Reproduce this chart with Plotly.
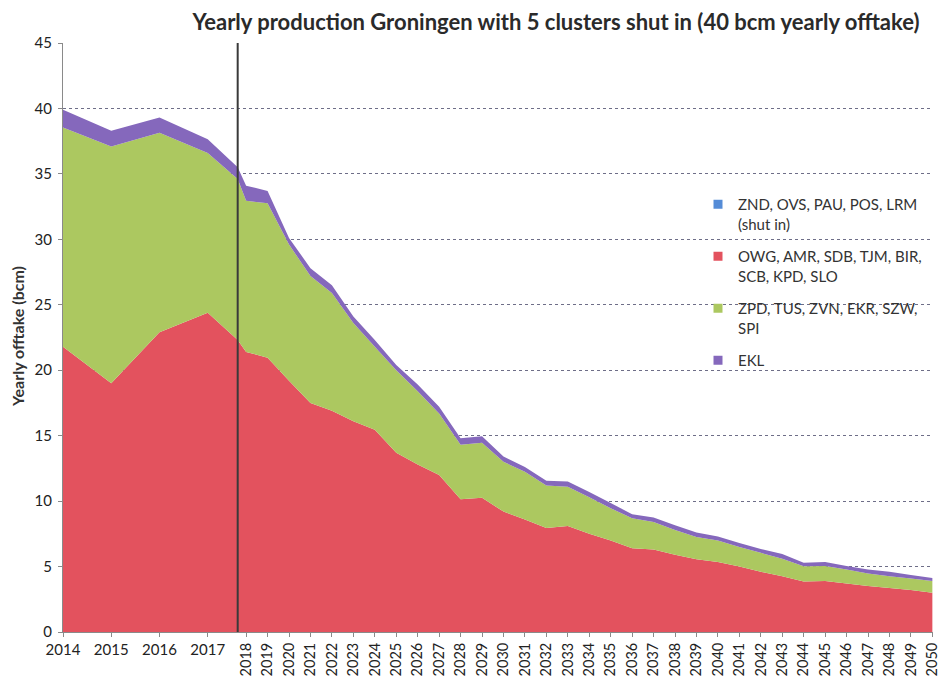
import numpy as np
import plotly.graph_objects as go

# ---- data ----
years = [2014, 2015, 2016, 2017, 2017.78] + list(range(2018, 2051))

shut_in = [0.0] * len(years)  # ZND, OVS, PAU, POS, LRM (shut in)
owg = [21.8, 19.0, 22.9, 24.4, 22.3, 21.4, 20.95, 19.2, 17.5, 16.9, 16.1, 15.45, 13.7,
       12.8, 12.0, 10.15, 10.25, 9.2, 8.6, 7.95, 8.1, 7.5, 7.0, 6.4, 6.3, 5.9, 5.55,
       5.35, 5.0, 4.6, 4.25, 3.85, 3.9, 3.7, 3.52, 3.37, 3.2, 3.0]
zpd = [16.75, 18.1, 15.25, 12.2, 12.3, 11.55, 11.8, 10.4, 9.7, 9.0, 7.5, 6.35, 6.3,
       5.6, 4.7, 4.15, 4.2, 3.8, 3.65, 3.25, 3.0, 2.8, 2.45, 2.3, 2.1, 1.9, 1.7,
       1.65, 1.5, 1.45, 1.35, 1.18, 1.15, 1.08, 0.95, 0.89, 0.88, 0.9]
ekl = [1.35, 1.2, 1.15, 1.05, 0.9, 1.15, 0.95, 0.5, 0.6, 0.6, 0.5, 0.5, 0.4,
       0.5, 0.5, 0.5, 0.5, 0.4, 0.35, 0.35, 0.4, 0.4, 0.4, 0.3, 0.35, 0.35, 0.35,
       0.3, 0.3, 0.3, 0.35, 0.27, 0.3, 0.27, 0.31, 0.34, 0.27, 0.23]

series_names = ["ZND, OVS, PAU, POS, LRM<br>(shut in)",
                "OWG, AMR, SDB, TJM, BIR,<br>SCB, KPD, SLO",
                "ZPD, TUS, ZVN, EKR, SZW,<br>SPI",
                "EKL"]
series_values = [shut_in, owg, zpd, ekl]
series_colors = ["rgb(85,140,215)", "rgb(227,82,94)", "rgb(172,200,96)", "rgb(133,104,188)"]

early_ticks = [2014, 2015, 2016, 2017]
late_ticks = list(range(2018, 2051))
separator_year = 2017.78


# The original axis gives 2014-2017 wider spacing than the later years.
def xpos(y):
    return np.interp(y, [2014, 2017, 2018, 2050], [0, 6.75, 8.54, 40.54])


xp = xpos(np.array(years, dtype=float))
xmax = float(xpos(2050))

FONT = "Lato, Noto Sans, sans-serif"

fig = go.Figure()
for name, vals, col in zip(series_names, series_values, series_colors):
    fig.add_trace(go.Scatter(
        x=xp, y=vals, name=name, stackgroup="one", mode="none",
        fillcolor=col, showlegend=False, hoverinfo="skip"))
# legend entries as small squares
for i, (name, col) in enumerate(zip(series_names, series_colors)):
    fig.add_trace(go.Scatter(
        x=[None], y=[None], name=name, mode="markers", legendgroup=f"g{i}",
        marker=dict(symbol="square", size=9, color=col)))
# helper for the second (rotated-label) x axis
fig.add_trace(go.Scatter(x=[0, xmax], y=[None, None], xaxis="x2", showlegend=False,
                         mode="none", hoverinfo="skip"))

fig.add_shape(type="line", x0=xpos(separator_year), x1=xpos(separator_year),
              y0=0, y1=45, xref="x", yref="y",
              line=dict(color="#3a3a3a", width=2), layer="above")

axis_font = dict(family=FONT, size=15, color="#222")
xr = [0, xmax + 0.03]

fig.update_layout(
    width=941, height=677,
    margin=dict(l=63, r=8, t=43, b=45),
    paper_bgcolor="white", plot_bgcolor="white",
    title=dict(text="<b>Yearly production Groningen with 5 clusters shut in (40 bcm yearly offtake)</b>",
               x=556 / 941, xanchor="center", xref="container",
               y=1 - 22 / 677, yanchor="middle", yref="container",
               font=dict(family=FONT, size=22, color="#2a2a2a")),
    xaxis=dict(range=xr, tickmode="array",
               tickvals=list(xpos(np.array(early_ticks, dtype=float))),
               ticktext=[str(t) for t in early_ticks],
               tickangle=0, showgrid=False, zeroline=False,
               showline=True, linecolor="#8a8a8a", linewidth=1,
               ticks="outside", ticklen=4, tickcolor="#8a8a8a",
               tickfont=axis_font, automargin=False),
    xaxis2=dict(range=xr, overlaying="x", side="bottom", anchor="y",
                tickmode="array",
                tickvals=list(xpos(np.array(late_ticks, dtype=float))),
                ticktext=[str(t) for t in late_ticks],
                tickangle=-90, showgrid=False, zeroline=False, showline=False,
                ticks="outside", ticklen=4, tickcolor="#8a8a8a",
                tickfont=dict(family=FONT, size=14.5, color="#222"),
                automargin=False),
    yaxis=dict(range=[0, 45], tickmode="array", tickvals=list(range(0, 46, 5)),
               showgrid=True, gridcolor="#6e6e88", griddash="dot", gridwidth=1,
               zeroline=False, showline=True, linecolor="#8a8a8a", linewidth=1,
               ticks="outside", ticklen=4, tickcolor="#8a8a8a",
               ticklabelstandoff=3,
               tickfont=axis_font, automargin=False),
    legend=dict(x=(698 - 63) / 870, y=(632 - 188) / 589,
                xanchor="left", yanchor="top",
                bgcolor="rgba(0,0,0,0)", traceorder="grouped", tracegroupgap=10,
                valign="top",
                font=dict(family=FONT, size=15, color="#333")),
    annotations=[dict(text="<b>Yearly offtake (bcm)</b>", textangle=-90,
                      xref="paper", yref="paper", x=(17 - 63) / 870, y=(632 - 337) / 589,
                      xanchor="center", yanchor="middle", showarrow=False,
                      font=dict(family=FONT, size=16, color="#333"))],
)

fig.write_html("out.html", config={"displayModeBar": False},
               post_script="document.body.style.margin='0';")
